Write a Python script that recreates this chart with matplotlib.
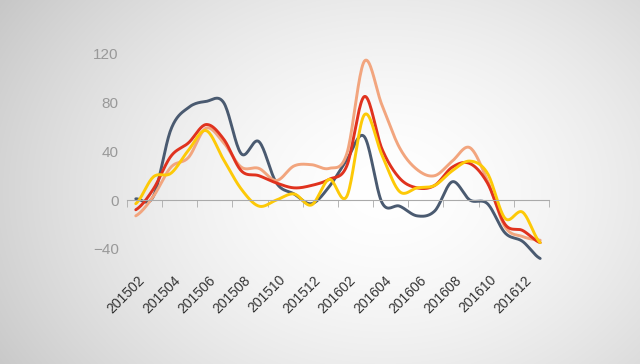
import numpy as np
import matplotlib
matplotlib.use("Agg")
import matplotlib.pyplot as plt
from matplotlib.transforms import ScaledTranslation

plt.rcParams['font.family'] = ['Liberation Sans', 'DejaVu Sans']

# months 201502 .. 201701, every other one labelled
months = ['2015%02d' % m for m in range(2, 13)] + ['2016%02d' % m for m in range(1, 13)] + ['201701']

dark = [1, 3, 58, 76, 81, 80, 38, 48, 14, 5, -3, 11,
        33, 52, -2, -5, -13, -9, 15, 0, -3, -27, -34, -48]
red = [-8, 9, 36, 47, 62, 50, 24, 20, 14, 10, 12, 17,
       28, 85, 42, 18, 10, 12, 27, 30, 14, -20, -25, -35]
salmon = [-13, 3, 27, 35, 59, 47, 27, 26, 16, 28, 29, 26,
          38, 114, 78, 43, 25, 20, 32, 43, 16, -22, -30, -33]
yellow = [-3, 19, 22, 41, 57, 33, 9, -5, 0, 5, -4, 17,
          3, 70, 37, 7, 10, 12, 24, 32, 22, -15, -10, -35]

series = [(dark, '#4a5a70'), (salmon, '#f2a57e'), (red, '#e0321e'), (yellow, '#fdc907')]


def smooth(y, n=20):
    # catmull-rom through the points, just for drawing
    y = np.asarray(y, float)
    x = np.arange(len(y), dtype=float)
    p = np.concatenate([[y[0]], y, [y[-1]]])
    xs, ys = [], []
    for i in range(len(y) - 1):
        p0, p1, p2, p3 = p[i], p[i + 1], p[i + 2], p[i + 3]
        t = np.linspace(0, 1, n, endpoint=False)
        v = 0.5 * ((2 * p1) + (-p0 + p2) * t + (2 * p0 - 5 * p1 + 4 * p2 - p3) * t ** 2
                   + (-p0 + 3 * p1 - 3 * p2 + p3) * t ** 3)
        xs.append(x[i] + t)
        ys.append(v)
    xs.append([x[-1]])
    ys.append([y[-1]])
    return np.concatenate(xs), np.concatenate(ys)


fig = plt.figure(figsize=(6.4, 3.64), dpi=100)

# radial grey background
bg = fig.add_axes([0, 0, 1, 1], zorder=-10)
gx, gy = np.meshgrid(np.arange(640), np.arange(364))
r = np.sqrt(((gx - 385) / 390.0) ** 2 + ((gy - 190) / 300.0) ** 2)
val = 1.0 - 0.17 * np.clip(r, 0, 1.3) ** 1.6
bg.imshow(np.dstack([val, val, val]), aspect='auto', extent=[0, 1, 0, 1])
bg.axis('off')

ax = fig.add_axes([0.1984, 0.2832, 0.6594, 0.5854])
ax.patch.set_alpha(0)

for vals, c in series:
    sx, sy = smooth(vals)
    ax.plot(sx, sy, color=c, lw=2.1, clip_on=False, solid_capstyle='round')

ax.set_xlim(-0.5, 23.5)
ax.set_ylim(-50, 125)
ax.set_yticks([-40, 0, 40, 80, 120])
ax.tick_params(axis='y', length=0, pad=6, labelcolor='#999999', labelsize=11)

for s in ['top', 'right', 'left']:
    ax.spines[s].set_visible(False)
ax.spines['bottom'].set_position(('data', 0))
ax.spines['bottom'].set_color('#aaaaaa')

ax.set_xticks(range(0, 24, 2))
ax.set_xticklabels(months[::2], rotation=45, ha='right', va='center',
                   rotation_mode='anchor', color='#333333', fontsize=10)
ax.set_xticks(np.arange(-0.5, 24, 2), minor=True)
ax.tick_params(axis='x', which='major', length=0, pad=56)
ax.tick_params(axis='x', which='minor', length=5, color='#aaaaaa', direction='out')
for lab in ax.get_xticklabels():
    lab.set_transform(lab.get_transform() + ScaledTranslation(0.07, 0, fig.dpi_scale_trans))

fig.savefig('out.png', dpi=100)
